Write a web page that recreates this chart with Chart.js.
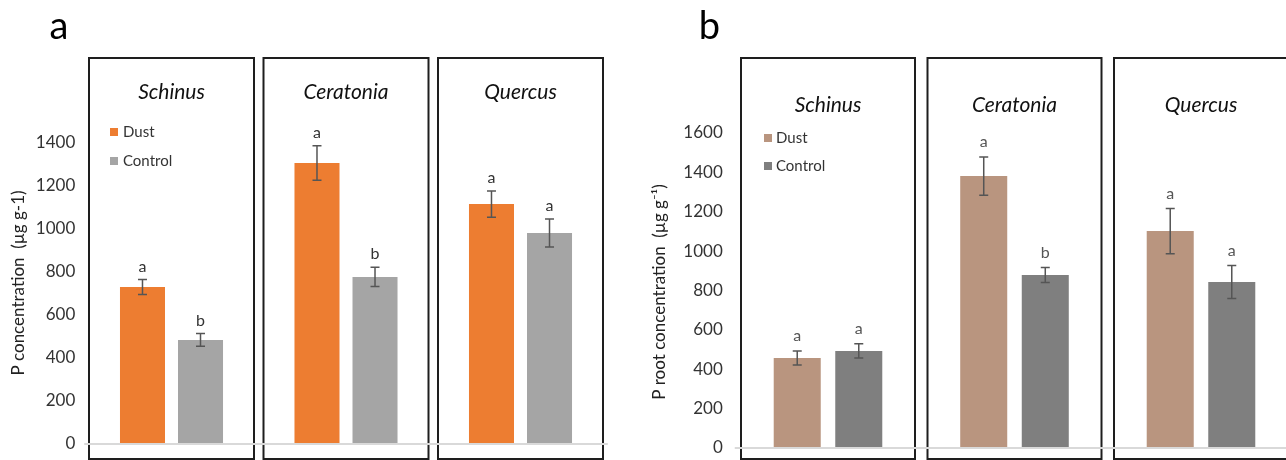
<!DOCTYPE html>
<html><head><meta charset="utf-8">
<script src="https://cdn.jsdelivr.net/npm/chart.js@4.4.1/dist/chart.umd.min.js"></script>
<style>
html,body{margin:0;padding:0;background:#fff;overflow:hidden;width:1286px;height:460px}
#wa{position:absolute;left:0;top:0;width:640px;height:460px;overflow:hidden}
#wb{position:absolute;left:640px;top:0;width:646px;height:460px;overflow:hidden}
canvas{position:absolute;left:0;top:0}
</style></head><body>
<div id="wa"><canvas id="ca" width="640" height="460"></canvas></div>
<div id="wb"><canvas id="cb" width="660" height="460"></canvas></div>
<script>
// ---- data ----
const species = ['Schinus', 'Ceratonia', 'Quercus'];
const seriesNames = ['Dust', 'Control'];

const leafDust = [730, 1307, 1116];
const leafDustErr = [35, 80, 61];
const leafControl = [484, 777, 981];
const leafControlErr = [30, 45, 65];
const leafDustLetters = ['a', 'a', 'a'];
const leafControlLetters = ['b', 'b', 'a'];
const leafTicks = [0, 200, 400, 600, 800, 1000, 1200, 1400];

const rootDust = [457, 1381, 1102];
const rootDustErr = [36, 97, 115];
const rootControl = [493, 879, 843];
const rootControlErr = [36, 38, 84];
const rootDustLetters = ['a', 'a', 'a'];
const rootControlLetters = ['a', 'b', 'a'];
const rootTicks = [0, 200, 400, 600, 800, 1000, 1200, 1400, 1600];

const FONT = 'Lato, "Open Sans", sans-serif';

function panelPlugin(p) {
  return {
    id: 'panel',
    beforeDatasetsDraw(chart) {
      const ctx = chart.ctx, a = chart.chartArea, x = chart.scales.x;
      const half = (a.right - a.left) / species.length / 2;
      ctx.save();
      ctx.strokeStyle = '#1e1e1e';
      ctx.lineWidth = 2;
      species.forEach((s, i) => {
        const c = x.getPixelForValue(i);
        const l = c - half + p.inset, r = c + half - p.inset;
        ctx.strokeRect(l, a.top, r - l, a.bottom + p.boxExtra - a.top);
      });
      ctx.restore();
    },
    afterDatasetsDraw(chart) {
      const ctx = chart.ctx, a = chart.chartArea, x = chart.scales.x, y = chart.scales.y;
      const half = (a.right - a.left) / species.length / 2;
      ctx.save();
      // zero line
      ctx.strokeStyle = '#d9d9d9';
      ctx.lineWidth = 2;
      ctx.beginPath();
      ctx.moveTo(a.left, y.getPixelForValue(0));
      ctx.lineTo(a.right, y.getPixelForValue(0));
      ctx.stroke();
      // error bars + letters
      chart.data.datasets.forEach((ds, d) => {
        const meta = chart.getDatasetMeta(d);
        meta.data.forEach((bar, i) => {
          const v = ds.data[i], e = ds.err[i];
          const yt = y.getPixelForValue(v + e), yb = y.getPixelForValue(v - e);
          ctx.strokeStyle = '#555';
          ctx.lineWidth = 1.5;
          ctx.beginPath();
          ctx.moveTo(bar.x, yt); ctx.lineTo(bar.x, yb);
          ctx.moveTo(bar.x - 4.5, yt); ctx.lineTo(bar.x + 4.5, yt);
          ctx.moveTo(bar.x - 4.5, yb); ctx.lineTo(bar.x + 4.5, yb);
          ctx.stroke();
          ctx.fillStyle = p.letterColor;
          ctx.font = '16px ' + FONT;
          ctx.textAlign = 'center';
          ctx.textBaseline = 'middle';
          ctx.fillText(ds.letters[i], bar.x, yt - p.letterGap);
        });
      });
      // species titles
      ctx.fillStyle = '#111';
      ctx.font = 'italic 21px ' + FONT;
      ctx.textAlign = 'center';
      ctx.textBaseline = 'middle';
      species.forEach((s, i) => {
        ctx.fillText(s, x.getPixelForValue(i), a.top + p.titleDy);
      });
      // legend
      const boxL = x.getPixelForValue(0) - half + p.inset;
      ctx.font = '15px ' + FONT;
      ctx.textAlign = 'left';
      chart.data.datasets.forEach((ds, d) => {
        const yy = a.top + p.legendDy[d];
        ctx.fillStyle = ds.backgroundColor;
        ctx.fillRect(boxL + p.legendSq, yy - 4, 8, 8);
        ctx.fillStyle = '#333';
        ctx.fillText(ds.label, boxL + p.legendTx, yy);
      });
      // y title
      ctx.save();
      ctx.translate(p.yTitleX, p.yTitleY);
      ctx.rotate(-Math.PI / 2);
      ctx.fillStyle = '#222';
      ctx.font = '17px ' + FONT;
      ctx.textAlign = 'center';
      ctx.textBaseline = 'middle';
      ctx.fillText(p.yTitle, 0, 0);
      ctx.restore();
      // panel letter
      ctx.fillStyle = '#000';
      ctx.font = '38px ' + FONT;
      ctx.textAlign = 'center';
      ctx.textBaseline = 'alphabetic';
      ctx.fillText(p.letter, p.letterX, 39);
      ctx.restore();
    }
  };
}

function makeChart(id, dust, dustErr, dustL, ctrl, ctrlErr, ctrlL, colors, ticks, yMax, axisW, tickPad, pad, catPct, barPct, p) {
  return new Chart(document.getElementById(id), {
    type: 'bar',
    data: {
      labels: species,
      datasets: [
        { label: seriesNames[0], data: dust, err: dustErr, letters: dustL, backgroundColor: colors[0], borderWidth: 0 },
        { label: seriesNames[1], data: ctrl, err: ctrlErr, letters: ctrlL, backgroundColor: colors[1], borderWidth: 0 }
      ]
    },
    options: {
      responsive: false,
      animation: false,
      layout: { padding: pad },
      categoryPercentage: catPct,
      barPercentage: barPct,
      plugins: { legend: { display: false }, tooltip: { enabled: false } },
      scales: {
        x: { type: 'category', display: false },
        y: {
          min: 0, max: yMax,
          afterBuildTicks: s => { s.ticks = ticks.map(v => ({ value: v })); },
          afterFit: s => { s.width = axisW; s.paddingTop = 0; s.paddingBottom = 0; },
          grid: { display: false, drawTicks: false },
          border: { display: false },
          ticks: { padding: tickPad, color: '#333', font: { family: FONT, size: 17 }, callback: v => String(v) }
        }
      }
    },
    plugins: [panelPlugin(p)]
  });
}

makeChart('ca', leafDust, leafDustErr, leafDustLetters, leafControl, leafControlErr, leafControlLetters,
  ['#ed7d31', '#a5a5a5'], leafTicks, 1795, 84.25, 9,
  { left: 0, right: 32.25, top: 58, bottom: 16 }, 0.665, 0.776,
  { inset: 4.75, boxExtra: 15, titleDy: 34, legendDy: [74, 103], legendSq: 21, legendTx: 34,
    letterGap: 13, letterColor: '#333', yTitle: 'P concentration  (µg g-1)', yTitleX: 19, yTitleY: 283,
    letter: 'a', letterX: 59 });

makeChart('cb', rootDust, rootDustErr, rootDustLetters, rootControl, rootControlErr, rootControlLetters,
  ['#b9957f', '#7f7f7f'], rootTicks, 1981, 94.75, 12,
  { left: 0, right: 5.75, top: 58, bottom: 12 }, 0.66, 0.764,
  { inset: 6.25, boxExtra: 11, titleDy: 47, legendDy: [80, 108], legendSq: 23, legendTx: 35,
    letterGap: 15, letterColor: '#555', yTitle: 'P root concentration  (µg g\u207B\u00B9)', yTitleX: 20, yTitleY: 292,
    letter: 'b', letterX: 69.5 });
</script>
</body></html>
